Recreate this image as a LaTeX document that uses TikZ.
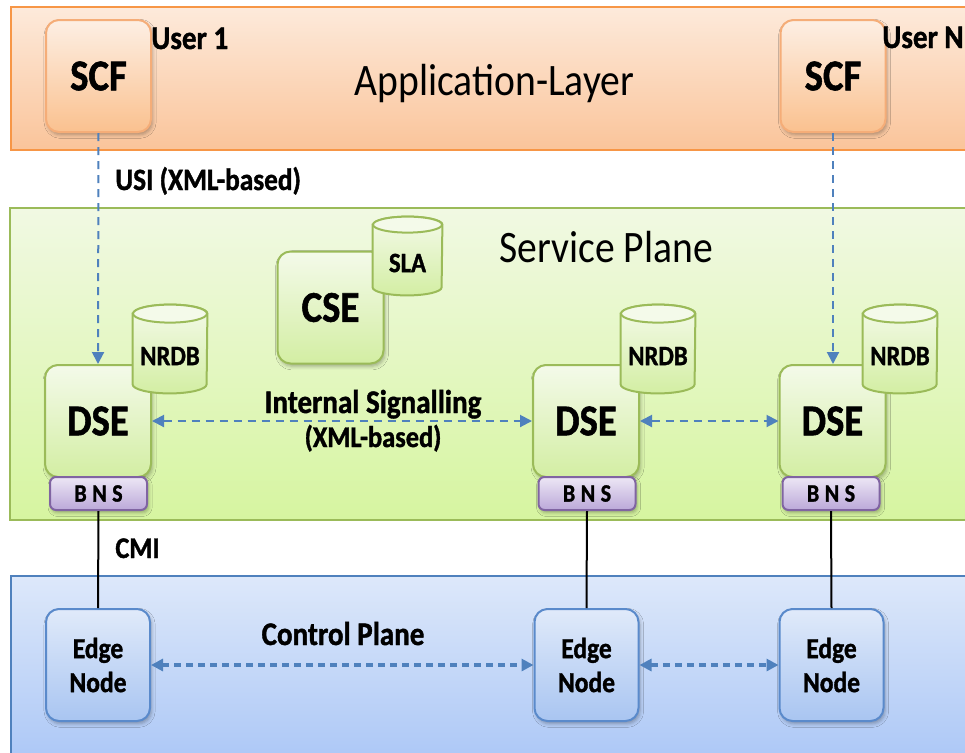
\documentclass[tikz,border=0pt]{standalone}
\usepackage{fontspec}
\setmainfont{Carlito}[FakeStretch=0.88, BoldFeatures={FakeBold=1.2}]
\usetikzlibrary{arrows.meta,calc,shadows.blur}

\definecolor{appdraw}{HTML}{F79646}
\definecolor{apptop}{HTML}{FDEADB}
\definecolor{appbot}{HTML}{FAC49A}
\definecolor{scfdraw}{HTML}{F5AD78}
\definecolor{scftop}{HTML}{FDEFE4}
\definecolor{scfbot}{HTML}{FAC18F}
\definecolor{svcdraw}{HTML}{9BBB59}
\definecolor{svctop}{HTML}{F1F9E3}
\definecolor{svcbot}{HTML}{D6F5A0}
\definecolor{grdraw}{HTML}{9BBB59}
\definecolor{grtop}{HTML}{F4FAEA}
\definecolor{grbot}{HTML}{D3EEA3}
\definecolor{bnsdraw}{HTML}{8064A2}
\definecolor{bnstop}{HTML}{EDE7F5}
\definecolor{bnsbot}{HTML}{BBA8D9}
\definecolor{ctldraw}{HTML}{4F81BD}
\definecolor{ctltop}{HTML}{DDE8FA}
\definecolor{ctlbot}{HTML}{A7C4F6}
\definecolor{edgedraw}{HTML}{5A8ACB}
\definecolor{edgetop}{HTML}{E0EAFA}
\definecolor{edgebot}{HTML}{A9C5F1}
\definecolor{sigcol}{HTML}{4F81BD}

\newcommand\cylry{4.5pt}
% database cylinder: name, x, y, width, height, label
\newcommand\dbcyl[6]{%
  \node[cylframe, minimum width=#4, minimum height=#5] (#1) at (#2,#3) {};
  \path[cylbody]
    ($(#1.north west)+(0pt,-\cylry)$) -- ($(#1.south west)+(0pt,\cylry)$)
    arc[start angle=180, end angle=360, x radius=#4/2, y radius=\cylry]
    -- ($(#1.north east)+(0pt,-\cylry)$)
    arc[start angle=0, end angle=180, x radius=#4/2, y radius=\cylry] -- cycle;
  \path[cyltop] ($(#1.north)+(0pt,-\cylry)$) ellipse[x radius=#4/2, y radius=\cylry];
  \node[cyllabel] at ($(#1.center)+(0pt,-3.5pt)$) {#6};
}

\begin{document}
\begin{tikzpicture}[x=0.5pt, y=-0.5pt,
  layer/.style={line width=1.3pt},
  shade/.style={blur shadow={shadow xshift=0.8pt, shadow yshift=-1.4pt,
      shadow blur radius=1.8pt, shadow opacity=30}},
  box/.style={shade, rounded corners=6.5pt, line width=1pt, inner sep=0pt,
      font=\fontsize{22}{26}\selectfont\bfseries},
  scfbox/.style={box, draw=scfdraw, top color=scftop, bottom color=scfbot,
      minimum width=52.5pt, minimum height=56pt},
  grbox/.style={box, draw=grdraw, top color=grtop, bottom color=grbot,
      minimum width=53pt, minimum height=56pt},
  bnsbox/.style={shade, rounded corners=3pt, line width=1pt, inner sep=0pt,
      draw=bnsdraw, top color=bnstop, bottom color=bnsbot,
      minimum width=48.5pt, minimum height=16.5pt,
      font=\fontsize{12.5}{14}\selectfont\bfseries\addfontfeature{LetterSpace=22}},
  edgebox/.style={box, draw=edgedraw, top color=edgetop, bottom color=edgebot,
      minimum width=52pt, minimum height=56pt, align=center,
      font=\fontsize{14.5}{17}\selectfont\bfseries},
  cylframe/.style={inner sep=0pt},
  cylbody/.style={draw=grdraw, line width=1pt, top color=grtop, bottom color=grbot},
  cyltop/.style={draw=grdraw, line width=1pt, fill=grtop},
  cyllabel/.style={font=\fontsize{14}{16}\selectfont\bfseries},
  lbl/.style={font=\fontsize{16.5}{20}\selectfont\bfseries, inner sep=0pt},
  title/.style={font=\fontsize{22.5}{27}\selectfont, inner sep=0pt},
  usi/.style={draw=sigcol, line width=1pt, dash pattern=on 4pt off 3pt,
      -{Triangle[length=6pt, width=6pt]}},
  sig/.style={draw=sigcol, line width=1pt, dash pattern=on 4pt off 3pt,
      {Triangle[length=6pt, width=6pt]}-{Triangle[length=6pt, width=6pt]}},
  ctl/.style={draw=sigcol, line width=1.6pt, dash pattern=on 3.5pt off 2.5pt,
      {Triangle[length=6pt, width=6pt]}-{Triangle[length=6pt, width=6pt]}},
  cmi/.style={draw=black, line width=1pt}
]
\useasboundingbox (0,0) rectangle (965,752);
\clip (0,0) rectangle (965,752);

% the three planes
\path[layer, draw=appdraw, top color=apptop, bottom color=appbot]
  (11,7) rectangle (990,150);
\path[layer, draw=svcdraw, top color=svctop, bottom color=svcbot]
  (10,208) rectangle (990,520);
\path[layer, draw=ctldraw, top color=ctltop, bottom color=ctlbot]
  (11,576) rectangle (990,780);

\node[title, anchor=base] (applbl) at (494.5,95) {Application-Layer};
\node[title, anchor=base] (svclbl) at (606,262) {Service Plane};

% application layer
\node[scfbox] (scf1) at (98.5,76) {SCF};
\node[scfbox] (scf2) at (833,76) {SCF};
\node[lbl, anchor=base west] (user1) at (151,49) {User 1};
\node[lbl, anchor=base west] (usern) at (882,48) {User N};

% service plane
\node[grbox] (cse) at (330.5,307.5) {CSE};
\begingroup\renewcommand\cylry{4pt}
\dbcyl{sla}{407.5}{256}{34.5pt}{39pt}{SLA}
\endgroup

\node[grbox] (dse1) at (98,421) {DSE};
\node[grbox] (dse2) at (586,421) {DSE};
\node[grbox] (dse3) at (832.5,421) {DSE};
\dbcyl{nrdb1}{170}{349}{37pt}{44pt}{NRDB}
\dbcyl{nrdb2}{658}{349}{37pt}{44pt}{NRDB}
\dbcyl{nrdb3}{900}{349}{37pt}{44pt}{NRDB}

\node[bnsbox] (bns1) at (98.5,493.5) {BNS};
\node[bnsbox] (bns2) at (587,493.5) {BNS};
\node[bnsbox] (bns3) at (831,493.5) {BNS};

% control plane
\node[edgebox] (edge1) at (98,665) {Edge\\Node};
\node[edgebox] (edge2) at (586.5,665) {Edge\\Node};
\node[edgebox] (edge3) at (831.5,665) {Edge\\Node};

% interfaces
\draw[usi] (scf1.south) -- (dse1.north);
\draw[usi] (scf2.south) -- (scf2.south |- dse3.north);
\node[lbl, anchor=base west, font=\fontsize{15.5}{19}\selectfont\bfseries] (usilbl) at (115,190) {USI (XML-based)};

\draw[sig] (dse1) -- (dse2);
\draw[sig] (dse2) -- (dse3);
\node[lbl, anchor=base] (intlbl) at (373,413) {Internal Signalling};
\node[lbl, anchor=base, font=\fontsize{15}{18}\selectfont\bfseries] (xmllbl) at (373,447) {(XML-based)};

\draw[cmi] (bns1.south) -- (edge1.north);
\draw[cmi] (bns2.south) -- (edge2.north);
\draw[cmi] (bns3.south) -- (edge3.north);
\node[lbl, anchor=base west, font=\fontsize{15}{18}\selectfont\bfseries] (cmilbl) at (115,558) {CMI};

\draw[ctl] (edge1) -- (edge2);
\draw[ctl] (edge2) -- (edge3);
\node[lbl, anchor=base] (ctllbl) at (343,645) {Control Plane};
\end{tikzpicture}
\end{document}
